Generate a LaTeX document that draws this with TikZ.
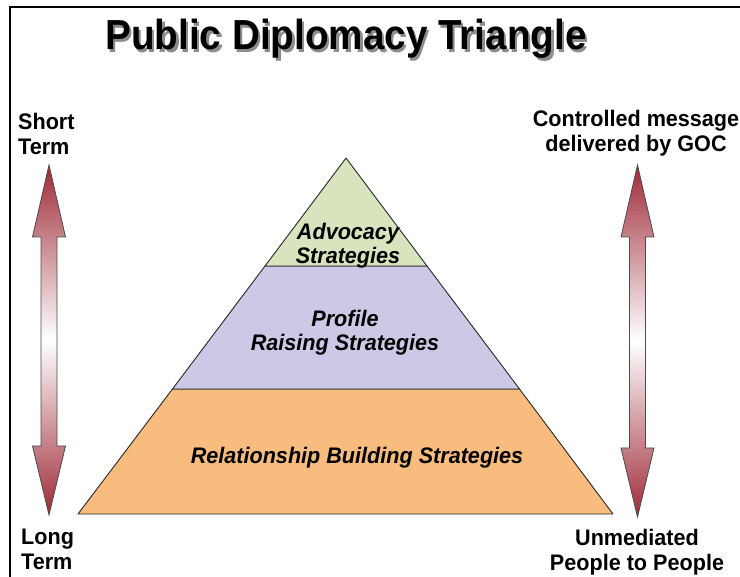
\documentclass[tikz,border=0pt]{standalone}
\usepackage{fontspec}
\setmainfont{Liberation Sans}
\definecolor{arrowred}{HTML}{9E2A38}
\definecolor{tipgreen}{HTML}{D7E4BD}
\definecolor{midlilac}{HTML}{CCC9E6}
\definecolor{baseorange}{HTML}{F8BC7E}
\newcommand\shadowtext[1]{\makebox[0pt][l]{\hspace{2.5pt}\raisebox{-2.5pt}{\textcolor{black!45}{#1}}}#1}
\begin{document}
\begin{tikzpicture}[x=1pt,y=-1pt,
  lbl/.style={font=\fontsize{22.5}{25}\selectfont\bfseries, align=center, inner sep=0pt, xscale=0.96},
  tri/.style={font=\fontsize{22.5}{24}\selectfont\bfseries\itshape, align=center, inner sep=0pt, xscale=0.96},
  layer/.style={draw=black!85, line width=0.9pt, line join=round},
  arrowbody/.style={draw=black!70, line width=0.8pt, line join=miter,
    top color=arrowred, bottom color=arrowred, middle color=white}]
\useasboundingbox (0,0) rectangle (740,577);
\fill[white] (0,0) rectangle (740,577);
% frame
\draw[line width=1.3pt] (10,577) -- (10,7) -- (740,7);

% title with drop shadow
\node[font=\fontsize{42}{46}\selectfont\bfseries, inner sep=0pt, anchor=base, xscale=0.92] (title) at (346,50) {\shadowtext{Public Diplomacy Triangle}};

% pyramid layers
\path[layer, fill=baseorange] (78,514) -- (613,514) -- (519.5,389) -- (172.5,389) -- cycle;
\path[layer, fill=midlilac] (172.5,389) -- (519.5,389) -- (427,266) -- (265,266) -- cycle;
\path[layer, fill=tipgreen] (265,266) -- (427,266) -- (346,158) -- cycle;

% layer captions (base anchor = baseline of the last line)
\node[tri, anchor=base] (advocacy) at (348,264) {Advocacy\\Strategies};
\node[tri, anchor=base] (profile) at (345,351) {Profile\\Raising Strategies};
\node[tri, anchor=base] (relation) at (357,464) {Relationship Building Strategies};

% two-headed time / control arrows
\foreach \cx/\tb in {49/515, 637.5/517} {
  \path[arrowbody]
    (\cx,165) -- (\cx+16.5,237) -- (\cx+8,237) -- (\cx+8,\tb-69)
    -- (\cx+16.5,\tb-69) -- (\cx,\tb) -- (\cx-16.5,\tb-69) -- (\cx-8,\tb-69)
    -- (\cx-8,237) -- (\cx-16.5,237) -- cycle;
}

% side labels
\node[lbl, anchor=base west, align=left] (short) at (18,155) {Short\\Term};
\node[lbl, anchor=base west, align=left] (long) at (21,570) {Long\\Term};
\node[lbl, anchor=base] (controlled) at (636,152) {Controlled message\\delivered by GOC};
\node[lbl, anchor=base] (unmediated) at (637,571) {Unmediated\\People to People};
\end{tikzpicture}
\end{document}
